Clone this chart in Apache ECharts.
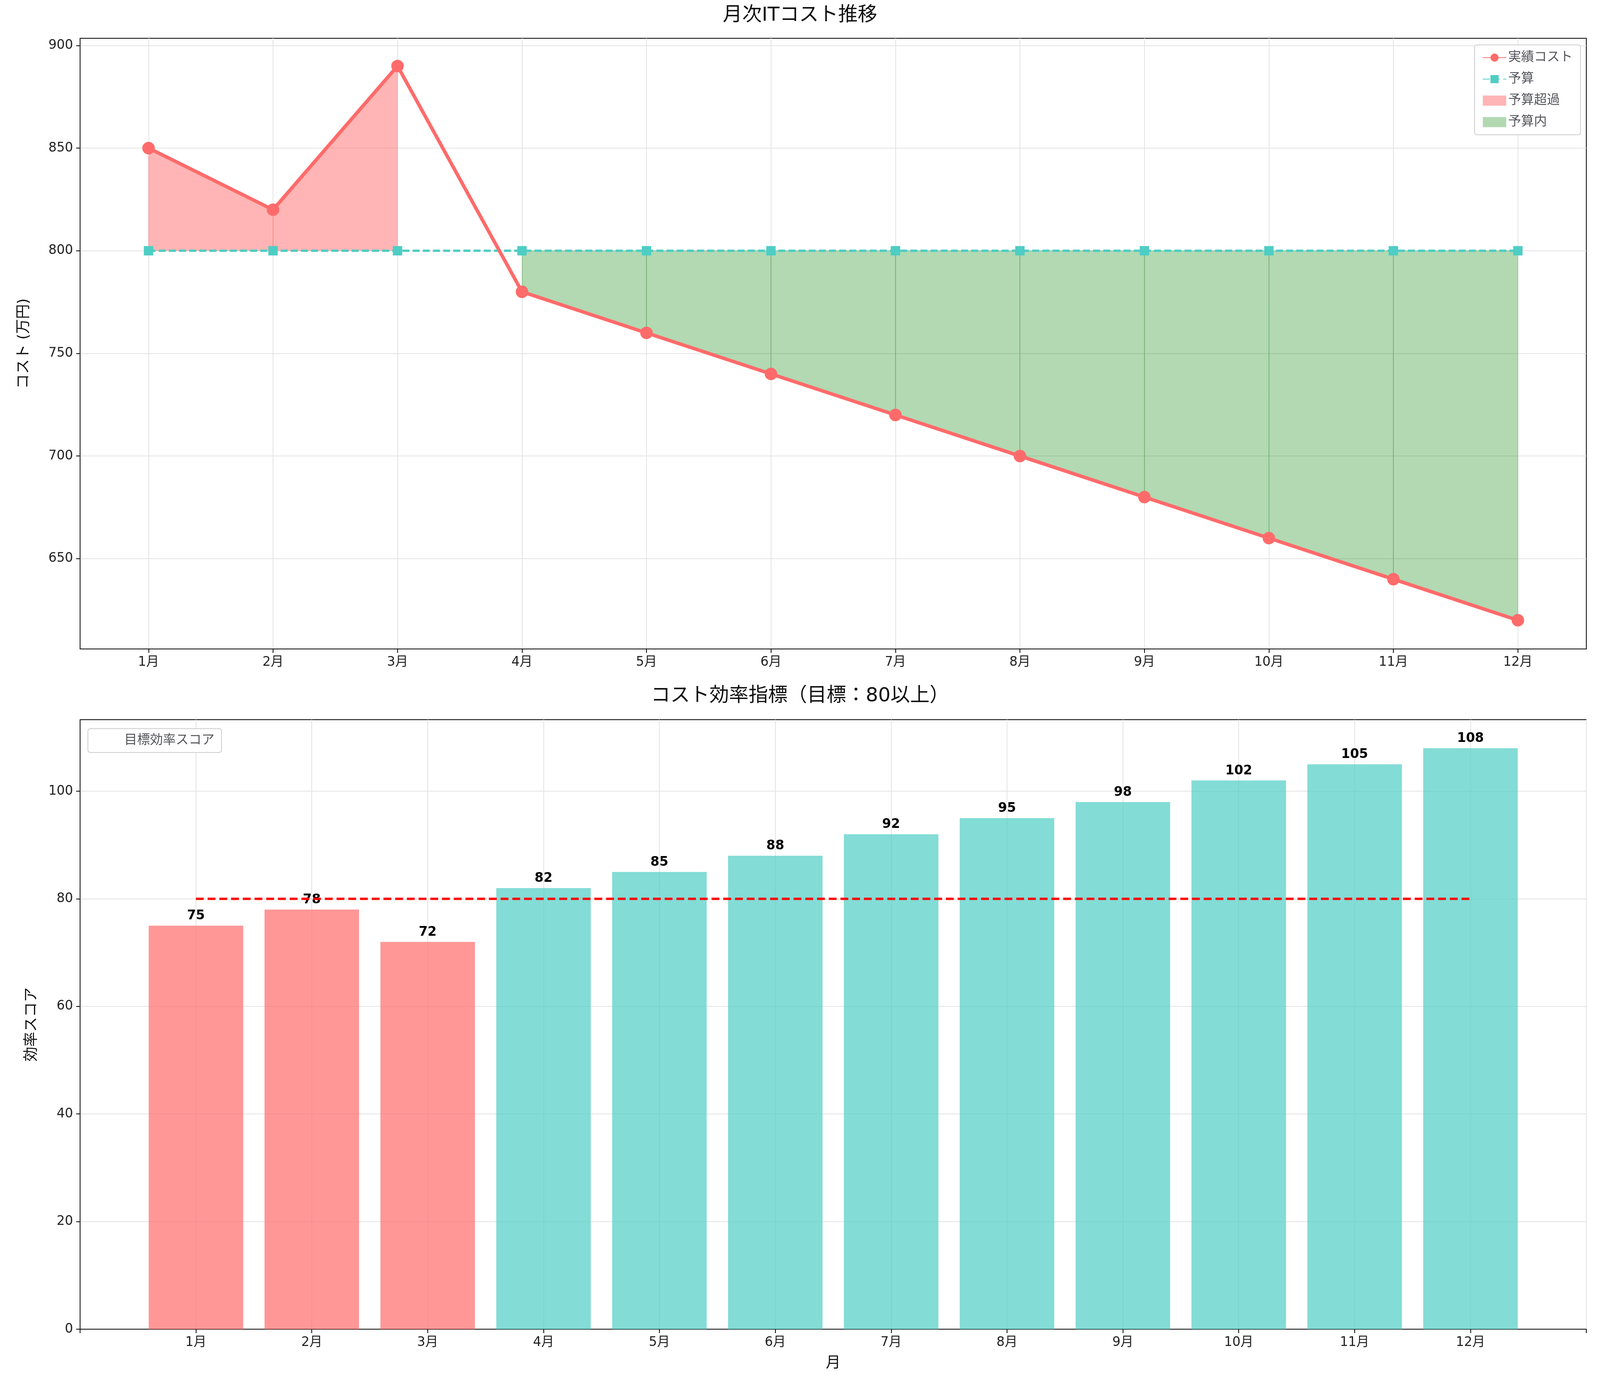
<!DOCTYPE html>
<html><head><meta charset="utf-8">
<script src="https://cdn.jsdelivr.net/npm/echarts@6/dist/echarts.min.js"></script>
<style>html,body{margin:0;padding:0;background:#fff;overflow:hidden}#c{width:100vw;height:100vh}</style>
</head><body><div id="c"></div>
<script>
const months=['1月','2月','3月','4月','5月','6月','7月','8月','9月','10月','11月','12月'];
const actual=[850,820,890,780,760,740,720,700,680,660,640,620];
const budget=[800,800,800,800,800,800,800,800,800,800,800,800];
const score=[75,78,72,82,85,88,92,95,98,102,105,108];
const target=80;
const F='"DejaVu Sans","Noto Sans CJK JP",sans-serif';
const idx=months.map((m,i)=>i);
const over=idx.map(i=>actual[i]>budget[i]);
const pts=a=>a.map((v,i)=>[i,v]);
const segs=flag=>idx.slice(0,-1).filter(i=>over[i]===flag&&over[i+1]===flag).map(i=>[i,actual[i],actual[i+1],budget[i],budget[i+1]]);
const redSegs=segs(true), grnSegs=segs(false);
const renderSeg=fill=>(params,api)=>{
 const i=api.value(0);
 const p=[api.coord([i,api.value(1)]),api.coord([i+1,api.value(2)]),api.coord([i+1,api.value(4)]),api.coord([i,api.value(3)])];
 return {type:'polygon',shape:{points:p},style:{fill:fill,stroke:fill,lineWidth:1}};
};
const ax={color:'#222',fontSize:33,fontFamily:F};
const sl={show:true,lineStyle:{color:'#e3e3e3',width:2}};
const tick={length:10,lineStyle:{color:'#000',width:2}};
const line={onZero:false,show:true,lineStyle:{color:'#000',width:2}};
const ch=echarts.init(document.getElementById('c'));
ch.setOption({
 animation:false,
 title:[{text:'月次ITコスト推移',left:'center',top:10,textStyle:{fontSize:50,fontWeight:'normal',fontFamily:F,color:'#111'}},
        {text:'コスト効率指標（目標：80以上）',left:'center',top:1752,textStyle:{fontSize:50,fontWeight:'normal',fontFamily:F,color:'#111'}}],
 grid:[{left:205,right:35,top:98,height:1563,show:true,borderColor:'#000',borderWidth:2},
       {left:205,right:35,top:1842,height:1560,show:true,borderColor:'#000',borderWidth:2}],
 legend:[{right:50,top:115,orient:'vertical',itemGap:22,textStyle:{fontSize:33,fontFamily:F},
   backgroundColor:'#fff',borderColor:'#ccc',borderWidth:2,padding:[16,20],borderRadius:6,
   data:[{name:'実績コスト'},{name:'予算'},{name:'予算超過',icon:'rect'},{name:'予算内',icon:'rect'}],itemWidth:60,itemHeight:26},
  {left:225,top:1865,textStyle:{fontSize:33,fontFamily:F},backgroundColor:'#fff',borderColor:'#ccc',borderWidth:2,padding:[14,18],borderRadius:6,
   data:[{name:'目標効率スコア',icon:'none'}],itemWidth:70}],
 xAxis:[{gridIndex:0,type:'value',min:-0.55,max:11.55,
   axisLabel:{...ax,margin:18,customValues:idx,formatter:v=>months[Math.round(v)]},
   axisTick:{...tick,customValues:idx},splitLine:sl,axisLine:line},
  {gridIndex:1,type:'value',min:-1,max:12,interval:1,
   name:'月',nameLocation:'middle',nameGap:68,nameTextStyle:{fontSize:38,fontFamily:F,color:'#111'},
   axisLabel:{...ax,margin:18,formatter:v=>(v>=0&&v<=11)?months[v]:''},
   axisTick:tick,splitLine:sl,axisLine:line}],
 yAxis:[{gridIndex:0,type:'value',min:606,max:903.5,
   axisLabel:{...ax,margin:18,customValues:[650,700,750,800,850,900]},axisTick:{...tick,customValues:[650,700,750,800,850,900]},
   splitLine:{show:true,lineStyle:{color:'#e3e3e3',width:2}},axisLine:line,
   name:'コスト (万円)',nameLocation:'middle',nameGap:125,nameTextStyle:{fontSize:38,fontFamily:F,color:'#111'}},
  {gridIndex:1,type:'value',min:0,max:113.3,
   axisLabel:{...ax,margin:18,customValues:[0,20,40,60,80,100]},axisTick:{...tick,customValues:[0,20,40,60,80,100]},
   splitLine:sl,axisLine:line,
   name:'効率スコア',nameLocation:'middle',nameGap:105,nameTextStyle:{fontSize:38,fontFamily:F,color:'#111'}}],
 series:[
  {type:'custom',name:'予算超過',xAxisIndex:0,yAxisIndex:0,data:redSegs,renderItem:renderSeg('rgba(255,107,107,0.5)'),itemStyle:{color:'rgba(255,107,107,0.5)'},z:2},
  {type:'custom',name:'予算内',xAxisIndex:0,yAxisIndex:0,data:grnSegs,renderItem:renderSeg('rgba(0,128,0,0.3)'),itemStyle:{color:'rgba(0,128,0,0.3)'},z:2},
  {type:'line',name:'予算',xAxisIndex:0,yAxisIndex:0,data:pts(budget),symbol:'rect',symbolSize:24,z:5,
   itemStyle:{color:'#4ECDC4'},lineStyle:{color:'#4ECDC4',width:6,type:[18,8]}},
  {type:'line',name:'実績コスト',xAxisIndex:0,yAxisIndex:0,data:pts(actual),symbol:'circle',symbolSize:32,z:6,
   itemStyle:{color:'#FF6B6B'},lineStyle:{color:'#FF6B6B',width:9}},
  {type:'bar',name:'score',xAxisIndex:1,yAxisIndex:1,barWidth:242,
   data:score.map((v,i)=>({value:[i,v],itemStyle:{color:v>=target?'rgba(78,205,196,0.7)':'rgba(255,107,107,0.7)'}})),
   label:{show:true,position:'top',distance:8,fontSize:33,fontWeight:'bold',fontFamily:F,color:'#000',formatter:p=>p.value[1]}},
  {type:'line',name:'目標効率スコア',xAxisIndex:1,yAxisIndex:1,data:[[0,target],[11,target]],symbol:'none',z:4,
   itemStyle:{color:'#ff0000'},lineStyle:{color:'#ff0000',width:6,type:[20,10]}}
 ]
});
</script></body></html>
